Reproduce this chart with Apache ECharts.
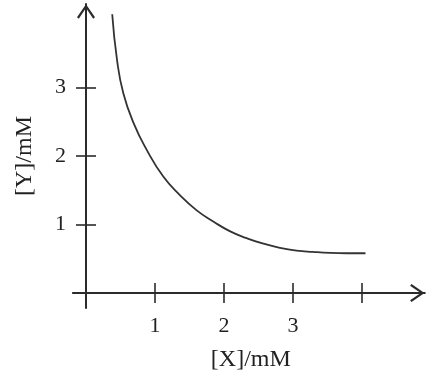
<!DOCTYPE html>
<html>
<head>
<meta charset="utf-8">
<script src="https://cdn.jsdelivr.net/npm/echarts@6/dist/echarts.min.js"></script>
<style>html,body{margin:0;padding:0;background:#fff}#c{width:435px;height:381px}</style>
</head>
<body>
<div id="c"></div>
<script>
const xValues = [0.38, 0.45, 0.54, 0.69, 0.88, 1.12, 1.36, 1.60, 1.85, 2.09, 2.33, 2.57, 2.81, 3.05, 3.29, 3.54, 3.78, 4.05];
const yValues = [4.07, 3.40, 2.92, 2.48, 2.09, 1.70, 1.43, 1.21, 1.04, 0.90, 0.80, 0.72, 0.66, 0.62, 0.60, 0.585, 0.58, 0.58];
const xTicks = [1, 2, 3, 4];
const xTickLabels = [1, 2, 3];
const yTicks = [1, 2, 3];
const yTickLabels = [1, 2, 3];
const xName = '[X]/mM';
const yName = '[Y]/mM';

const chart = echarts.init(document.getElementById('c'), null, {renderer: 'canvas'});
const axisColor = '#2b2b2b';
const textColor = '#222';
const font = '"Liberation Serif", "DejaVu Serif", serif';
const chevron = 'path://M9,0 L18,13 L16.2,14.4 L9,3.8 L1.8,14.4 L0,13 Z';
const XMIN = -0.19, XMAX = 4.91, YMIN = -0.22, YMAX = 4.22;

function xAxisCfg(main) {
  return {
    type: 'value', min: XMIN, max: XMAX, position: 'bottom',
    axisLine: main ? {show: true, onZero: true, lineStyle: {color: axisColor, width: 2},
      symbol: ['none', chevron], symbolSize: [18, 15], symbolOffset: [0, -7.5]} :
      {show: false, onZero: true, onZeroAxisIndex: 0},
    axisTick: {show: true, inside: !main, length: 10, customValues: xTicks, lineStyle: {color: axisColor, width: 1.6}},
    axisLabel: main ? {show: true, customValues: xTickLabels, margin: 7, fontFamily: font, fontSize: 22, color: textColor} : {show: false},
    splitLine: {show: false},
    name: main ? xName : '', nameLocation: 'middle', nameGap: 40,
    nameTextStyle: {fontFamily: font, fontSize: 24, color: textColor, padding: [0, 0, 0, 4]}
  };
}
function yAxisCfg(main) {
  return {
    type: 'value', min: YMIN, max: YMAX, position: 'left',
    axisLine: main ? {show: true, onZero: true, lineStyle: {color: axisColor, width: 2},
      symbol: ['none', chevron], symbolSize: [18, 15], symbolOffset: [0, -7.5]} :
      {show: false, onZero: true, onZeroAxisIndex: 0},
    axisTick: {show: true, inside: !main, length: 10, customValues: yTicks, lineStyle: {color: axisColor, width: 1.6}},
    axisLabel: main ? {show: true, customValues: yTickLabels, margin: 7, fontFamily: font, fontSize: 22, color: textColor} : {show: false},
    splitLine: {show: false},
    name: main ? yName : '', nameLocation: 'middle', nameGap: 36, nameRotate: 90,
    nameTextStyle: {fontFamily: font, fontSize: 24, color: textColor}
  };
}

chart.setOption({
  animation: false,
  backgroundColor: '#fff',
  grid: {left: 72.89, right: 10.2, top: 3.93, bottom: 72.93, outerBoundsMode: 'none', containLabel: false},
  xAxis: [xAxisCfg(true), xAxisCfg(false)],
  yAxis: [yAxisCfg(true), yAxisCfg(false)],
  series: [{
    type: 'line', xAxisIndex: 0, yAxisIndex: 0,
    data: xValues.map((x, i) => [x, yValues[i]]),
    smooth: 0.5, showSymbol: false, symbol: 'none',
    lineStyle: {color: '#333', width: 1.8}
  }]
});
</script>
</body>
</html>
